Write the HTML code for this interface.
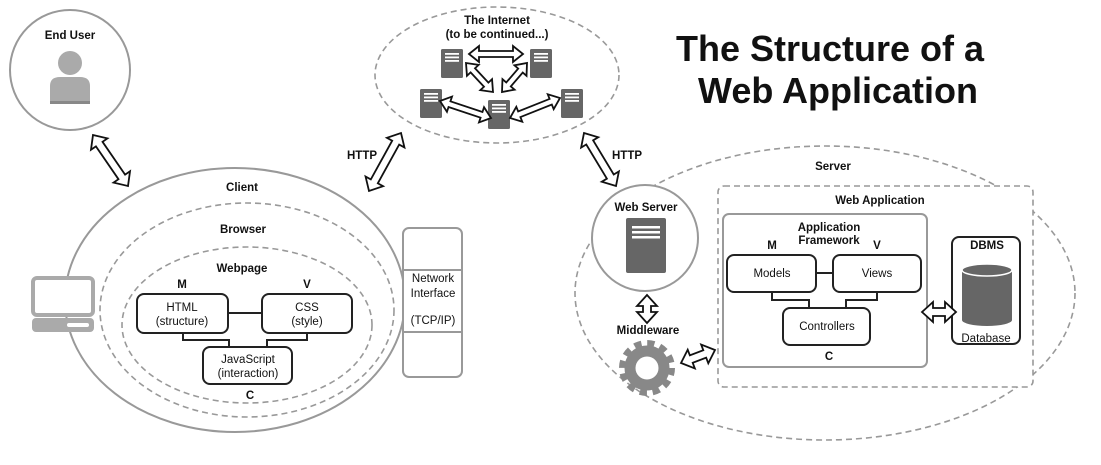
<!DOCTYPE html>
<html><head><meta charset="utf-8"><style>
body{margin:0;background:#fff;}
svg text{font-family:"Liberation Sans",sans-serif;font-size:11.5px;fill:#111;text-anchor:middle;}
.b{font-weight:bold;}
</style></head><body>
<svg id="s" width="1101" height="460" viewBox="0 0 1101 460" xmlns="http://www.w3.org/2000/svg">
<rect width="1101" height="460" fill="#fff"/>
<circle cx="70" cy="70" r="60" fill="none" stroke="#999" stroke-width="2"/>
<text x="70" y="39" class="b">End User</text>
<circle cx="70" cy="63" r="12" fill="#aaa"/>
<path d="M50 104 V86 Q50 77 60 77 H80 Q90 77 90 86 V104 Z" fill="#aaa"/>
<rect x="50" y="101" width="40" height="3" fill="#888"/>
<ellipse cx="235" cy="300" rx="170" ry="132" fill="none" stroke="#999" stroke-width="2"/>
<ellipse cx="247" cy="310" rx="147" ry="107" fill="none" stroke="#999" stroke-width="1.6" stroke-dasharray="6,4"/>
<ellipse cx="247" cy="325" rx="125" ry="78" fill="none" stroke="#999" stroke-width="1.6" stroke-dasharray="6,4"/>
<text x="242" y="191" class="b">Client</text>
<text x="243" y="233" class="b">Browser</text>
<text x="242" y="272" class="b">Webpage</text>
<text x="182" y="288" class="b">M</text>
<text x="307" y="288" class="b">V</text>
<text x="250" y="399" class="b">C</text>
<path d="M183 333 V340 H229 V347 M307 333 V340 H267 V347" fill="none" stroke="#222" stroke-width="2"/>
<line x1="228" y1="313" x2="262" y2="313" stroke="#222" stroke-width="2"/>
<rect x="137" y="294" width="91" height="39" rx="7" fill="#fff" stroke="#222" stroke-width="2"/>
<rect x="262" y="294" width="90" height="39" rx="7" fill="#fff" stroke="#222" stroke-width="2"/>
<rect x="203" y="347" width="89" height="37" rx="7" fill="#fff" stroke="#222" stroke-width="2"/>
<text x="182" y="311">HTML</text><text x="182" y="325">(structure)</text>
<text x="307" y="311">CSS</text><text x="307" y="325">(style)</text>
<text x="248" y="363">JavaScript</text><text x="248" y="377">(interaction)</text>
<rect x="403" y="228" width="59" height="149" rx="6" fill="#fff" stroke="#999" stroke-width="2"/>
<line x1="403" y1="270" x2="462" y2="270" stroke="#999" stroke-width="2"/>
<line x1="403" y1="332" x2="462" y2="332" stroke="#999" stroke-width="2"/>
<text x="433" y="282">Network</text><text x="433" y="297">Interface</text><text x="433" y="324">(TCP/IP)</text>
<rect x="33" y="278" width="60" height="37" rx="4" fill="#fff" stroke="#aaa" stroke-width="4"/>
<rect x="32" y="318" width="62" height="14" rx="4" fill="#aaa"/>
<rect x="67" y="323" width="22" height="4" rx="2" fill="#fff"/>
<ellipse cx="497" cy="75" rx="122" ry="68" fill="none" stroke="#999" stroke-width="1.6" stroke-dasharray="6,4"/>
<text x="497" y="24" class="b">The Internet</text>
<text x="497" y="38" class="b">(to be continued...)</text>
<g id="srv"></g>
<text x="830" y="61" class="b" style="font-size:36px">The Structure of a</text>
<text x="838" y="103" class="b" style="font-size:36px">Web Application</text>
<text x="362" y="159" class="b">HTTP</text>
<text x="627" y="159" class="b">HTTP</text>
<ellipse cx="825" cy="293" rx="250" ry="147" fill="none" stroke="#999" stroke-width="1.6" stroke-dasharray="6,4"/>
<text x="833" y="170" class="b">Server</text>
<circle cx="645" cy="238" r="53" fill="#fff" stroke="#999" stroke-width="2"/>
<text x="646" y="211" class="b">Web Server</text>
<rect x="626" y="218" width="40" height="55" rx="2" fill="#666"/>
<rect x="632" y="226" width="28" height="2.5" fill="#fff"/><rect x="632" y="231" width="28" height="2.5" fill="#fff"/><rect x="632" y="236" width="28" height="2.5" fill="#fff"/>
<text x="648" y="334" class="b">Middleware</text>
<circle cx="647" cy="368" r="24" fill="none" stroke="#888" stroke-width="8" stroke-dasharray="7,5.57"/>
<circle cx="647" cy="368" r="17" fill="none" stroke="#888" stroke-width="11"/>
<rect x="718" y="186" width="315" height="201" rx="6" fill="#fff" stroke="#999" stroke-width="1.6" stroke-dasharray="6,4"/>
<text x="880" y="204" class="b">Web Application</text>
<rect x="723" y="214" width="204" height="153" rx="6" fill="#fff" stroke="#999" stroke-width="2"/>
<text x="829" y="231" class="b">Application</text>
<text x="829" y="244" class="b">Framework</text>
<text x="772" y="249" class="b">M</text>
<text x="877" y="249" class="b">V</text>
<text x="829" y="360" class="b">C</text>
<path d="M772 292 V300 H809 V308 M877 292 V300 H846 V308" fill="none" stroke="#222" stroke-width="2"/>
<line x1="816" y1="273" x2="833" y2="273" stroke="#222" stroke-width="2"/>
<rect x="727" y="255" width="89" height="37" rx="7" fill="#fff" stroke="#222" stroke-width="2"/>
<rect x="833" y="255" width="88" height="37" rx="7" fill="#fff" stroke="#222" stroke-width="2"/>
<rect x="783" y="308" width="87" height="37" rx="7" fill="#fff" stroke="#222" stroke-width="2"/>
<text x="772" y="277">Models</text><text x="877" y="277">Views</text><text x="827" y="330">Controllers</text>
<rect x="952" y="237" width="68" height="107" rx="7" fill="#fff" stroke="#222" stroke-width="2"/>
<text x="987" y="249" class="b">DBMS</text>
<path d="M962 270 V320 A25 6 0 0 0 1012 320 V270 Z" fill="#666"/>
<ellipse cx="987" cy="270" rx="25" ry="6" fill="#666" stroke="#fff" stroke-width="1.5"/>
<text x="986" y="342">Database</text>
<g id="arr"></g>
</svg>
<script>
var NS="http://www.w3.org/2000/svg";
function da(x1,y1,x2,y2,hw,sw,hl){hw=hw||10;sw=sw||4;hl=hl||11;
var L=Math.hypot(x2-x1,y2-y1),a=Math.atan2(y2-y1,x2-x1)*180/Math.PI;
var p=document.createElementNS(NS,"polygon");
p.setAttribute("points",[0,0,hl,-hw,hl,-sw,L-hl,-sw,L-hl,-hw,L,0,L-hl,hw,L-hl,sw,hl,sw,hl,hw].join(" "));
p.setAttribute("fill","#fff");p.setAttribute("stroke","#111");p.setAttribute("stroke-width","1.8");
p.setAttribute("transform","translate("+x1+","+y1+") rotate("+a+")");
document.getElementById("arr").appendChild(p);}
function sv(x,y){var g=document.getElementById("srv");
var r=document.createElementNS(NS,"rect");r.setAttribute("x",x);r.setAttribute("y",y);r.setAttribute("width",22);r.setAttribute("height",29);r.setAttribute("rx",1.5);r.setAttribute("fill","#666");g.appendChild(r);
for(var i=0;i<3;i++){var l=document.createElementNS(NS,"rect");l.setAttribute("x",x+4);l.setAttribute("y",y+4+i*3.5);l.setAttribute("width",14);l.setAttribute("height",1.8);l.setAttribute("fill","#fff");g.appendChild(l);}}
sv(441,49);sv(530,49);sv(420,89);sv(488,100);sv(561,89);
da(93,135,128,186);da(401,133,369,191);da(584,133,616,186);
da(469,54,523,54,8,3,10);da(466,63,493,92,8,3,10);da(527,63,502,92,8,3,10);
da(440,101,491,118,8,3,10);da(510,118,560,98,8,3,10);
da(647,295,647,323);da(681,363,715,350);da(922,312,956,312);
</script>
</body></html>
